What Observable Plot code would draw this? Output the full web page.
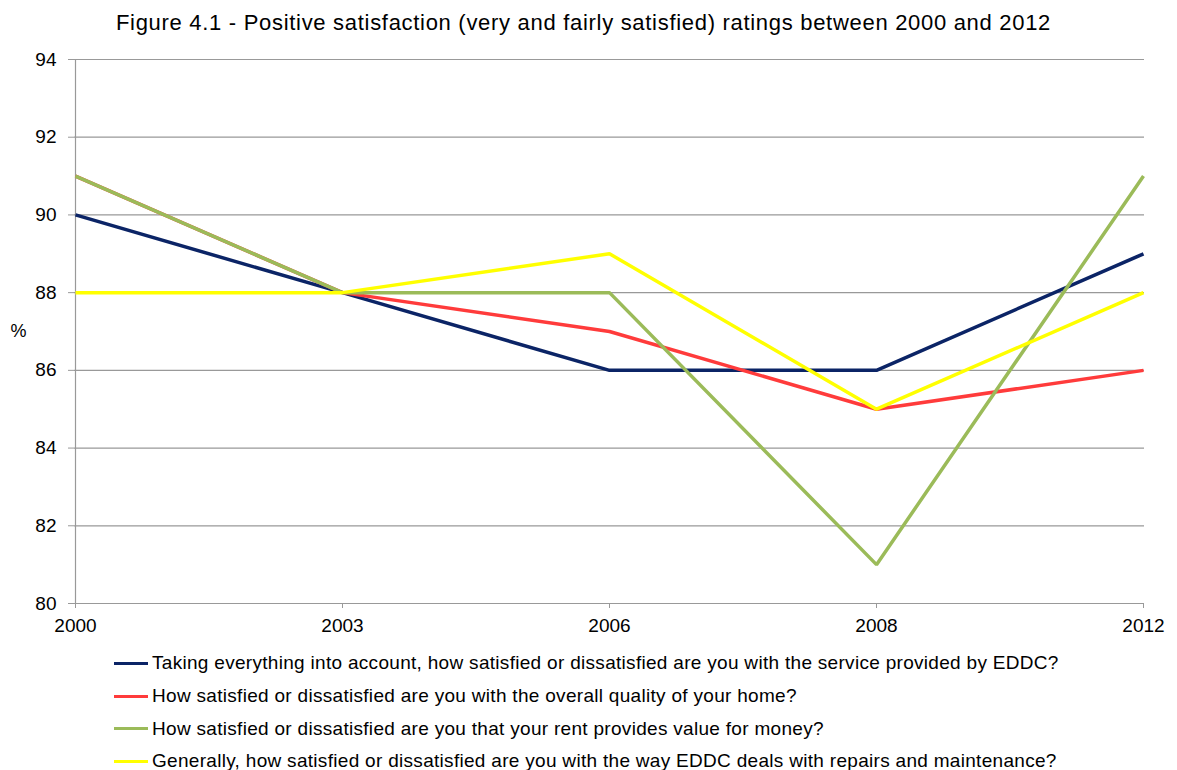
<!DOCTYPE html>
<html>
<head>
<meta charset="utf-8">
<script src="https://cdn.jsdelivr.net/npm/d3@7"></script>
<script src="https://cdn.jsdelivr.net/npm/@observablehq/plot@0.6"></script>
<style>
  body { margin: 0; background: #fff; font-family: "Liberation Sans", Arial, sans-serif; }
  #wrap { width: 1177px; height: 770px; position: relative; overflow: hidden; }
  .legend { position: absolute; left: 114px; top: 647px; }
  .item { display: flex; align-items: center; height: 32.7px; font-size: 19px; letter-spacing: 0.3px; color: #000; white-space: nowrap; }
  .sw { width: 34px; height: 3px; margin-right: 4px; flex: none; }
</style>
</head>
<body>
<div id="wrap"></div>
<script>
const years = ["2000", "2003", "2006", "2008", "2012"];
const seriesNames = [
  "Taking everything into account, how satisfied or dissatisfied are you with the service provided by EDDC?",
  "How satisfied or dissatisfied are you with the overall quality of your home?",
  "How satisfied or dissatisfied are you that your rent provides value for money?",
  "Generally, how satisfied or dissatisfied are you with the way EDDC deals with repairs and maintenance?"
];
const serviceEDDC = [90, 88, 86, 86, 89];
const qualityHome = [91, 88, 87, 85, 86];
const valueMoney  = [91, 88, 88, 81, 91];
const repairs     = [88, 88, 89, 85, 88];
const colors = ["#0b2466", "#ff3b3b", "#9bbb59", "#ffff00"];
const yTicks = [80, 82, 84, 86, 88, 90, 92, 94];
const title = "Figure 4.1 - Positive satisfaction (very and fairly satisfied) ratings between 2000 and 2012";

const allSeries = [serviceEDDC, qualityHome, valueMoney, repairs];
const data = [];
allSeries.forEach((vals, si) => vals.forEach((v, i) => data.push({year: years[i], value: v, series: seriesNames[si]})));

const chart = Plot.plot({
  width: 1177,
  height: 645,
  marginLeft: 74,
  marginRight: 33,
  marginTop: 59,
  marginBottom: 42,
  style: {fontFamily: "Liberation Sans, Arial, sans-serif", fontSize: "19px", color: "#000", background: "#fff"},
  x: {type: "point", domain: years, padding: 0, label: null},
  y: {domain: [80, 94], ticks: yTicks, label: null},
  color: {domain: seriesNames, range: colors},
  marks: [
    Plot.ruleY(yTicks, {stroke: "#999", strokeWidth: 1.2}),
    Plot.ruleX([years[0]], {stroke: "#999", strokeWidth: 1.2}),
    Plot.axisY({ticks: yTicks, tickSize: 6, tickPadding: 12, stroke: "#999", label: null, fontSize: 19}),
    Plot.axisX({tickSize: 5, tickPadding: 10, stroke: "#999", label: null, fontSize: 19}),
    Plot.line(data, {x: "year", y: "value", z: "series", stroke: "series", strokeWidth: 3.5, strokeLinejoin: "miter", strokeLinecap: "butt"}),
    Plot.text([title], {text: d => d, frameAnchor: "top", dy: -45, dx: -26, fontSize: 22}),
    Plot.text(["%"], {text: d => d, frameAnchor: "left", dx: -56, fontSize: 18, textAnchor: "middle"})
  ]
});
d3.select(chart).selectAll("text").filter(function() { return this.textContent === title; })
  .style("letter-spacing", "0.7px");
const wrap = document.getElementById("wrap");
wrap.appendChild(chart);

const legend = document.createElement("div");
legend.className = "legend";
seriesNames.forEach((name, i) => {
  const it = document.createElement("div");
  it.className = "item";
  const sw = document.createElement("span");
  sw.className = "sw";
  sw.style.background = colors[i];
  const tx = document.createElement("span");
  tx.textContent = name;
  it.appendChild(sw);
  it.appendChild(tx);
  legend.appendChild(it);
});
wrap.appendChild(legend);
</script>
</body>
</html>
